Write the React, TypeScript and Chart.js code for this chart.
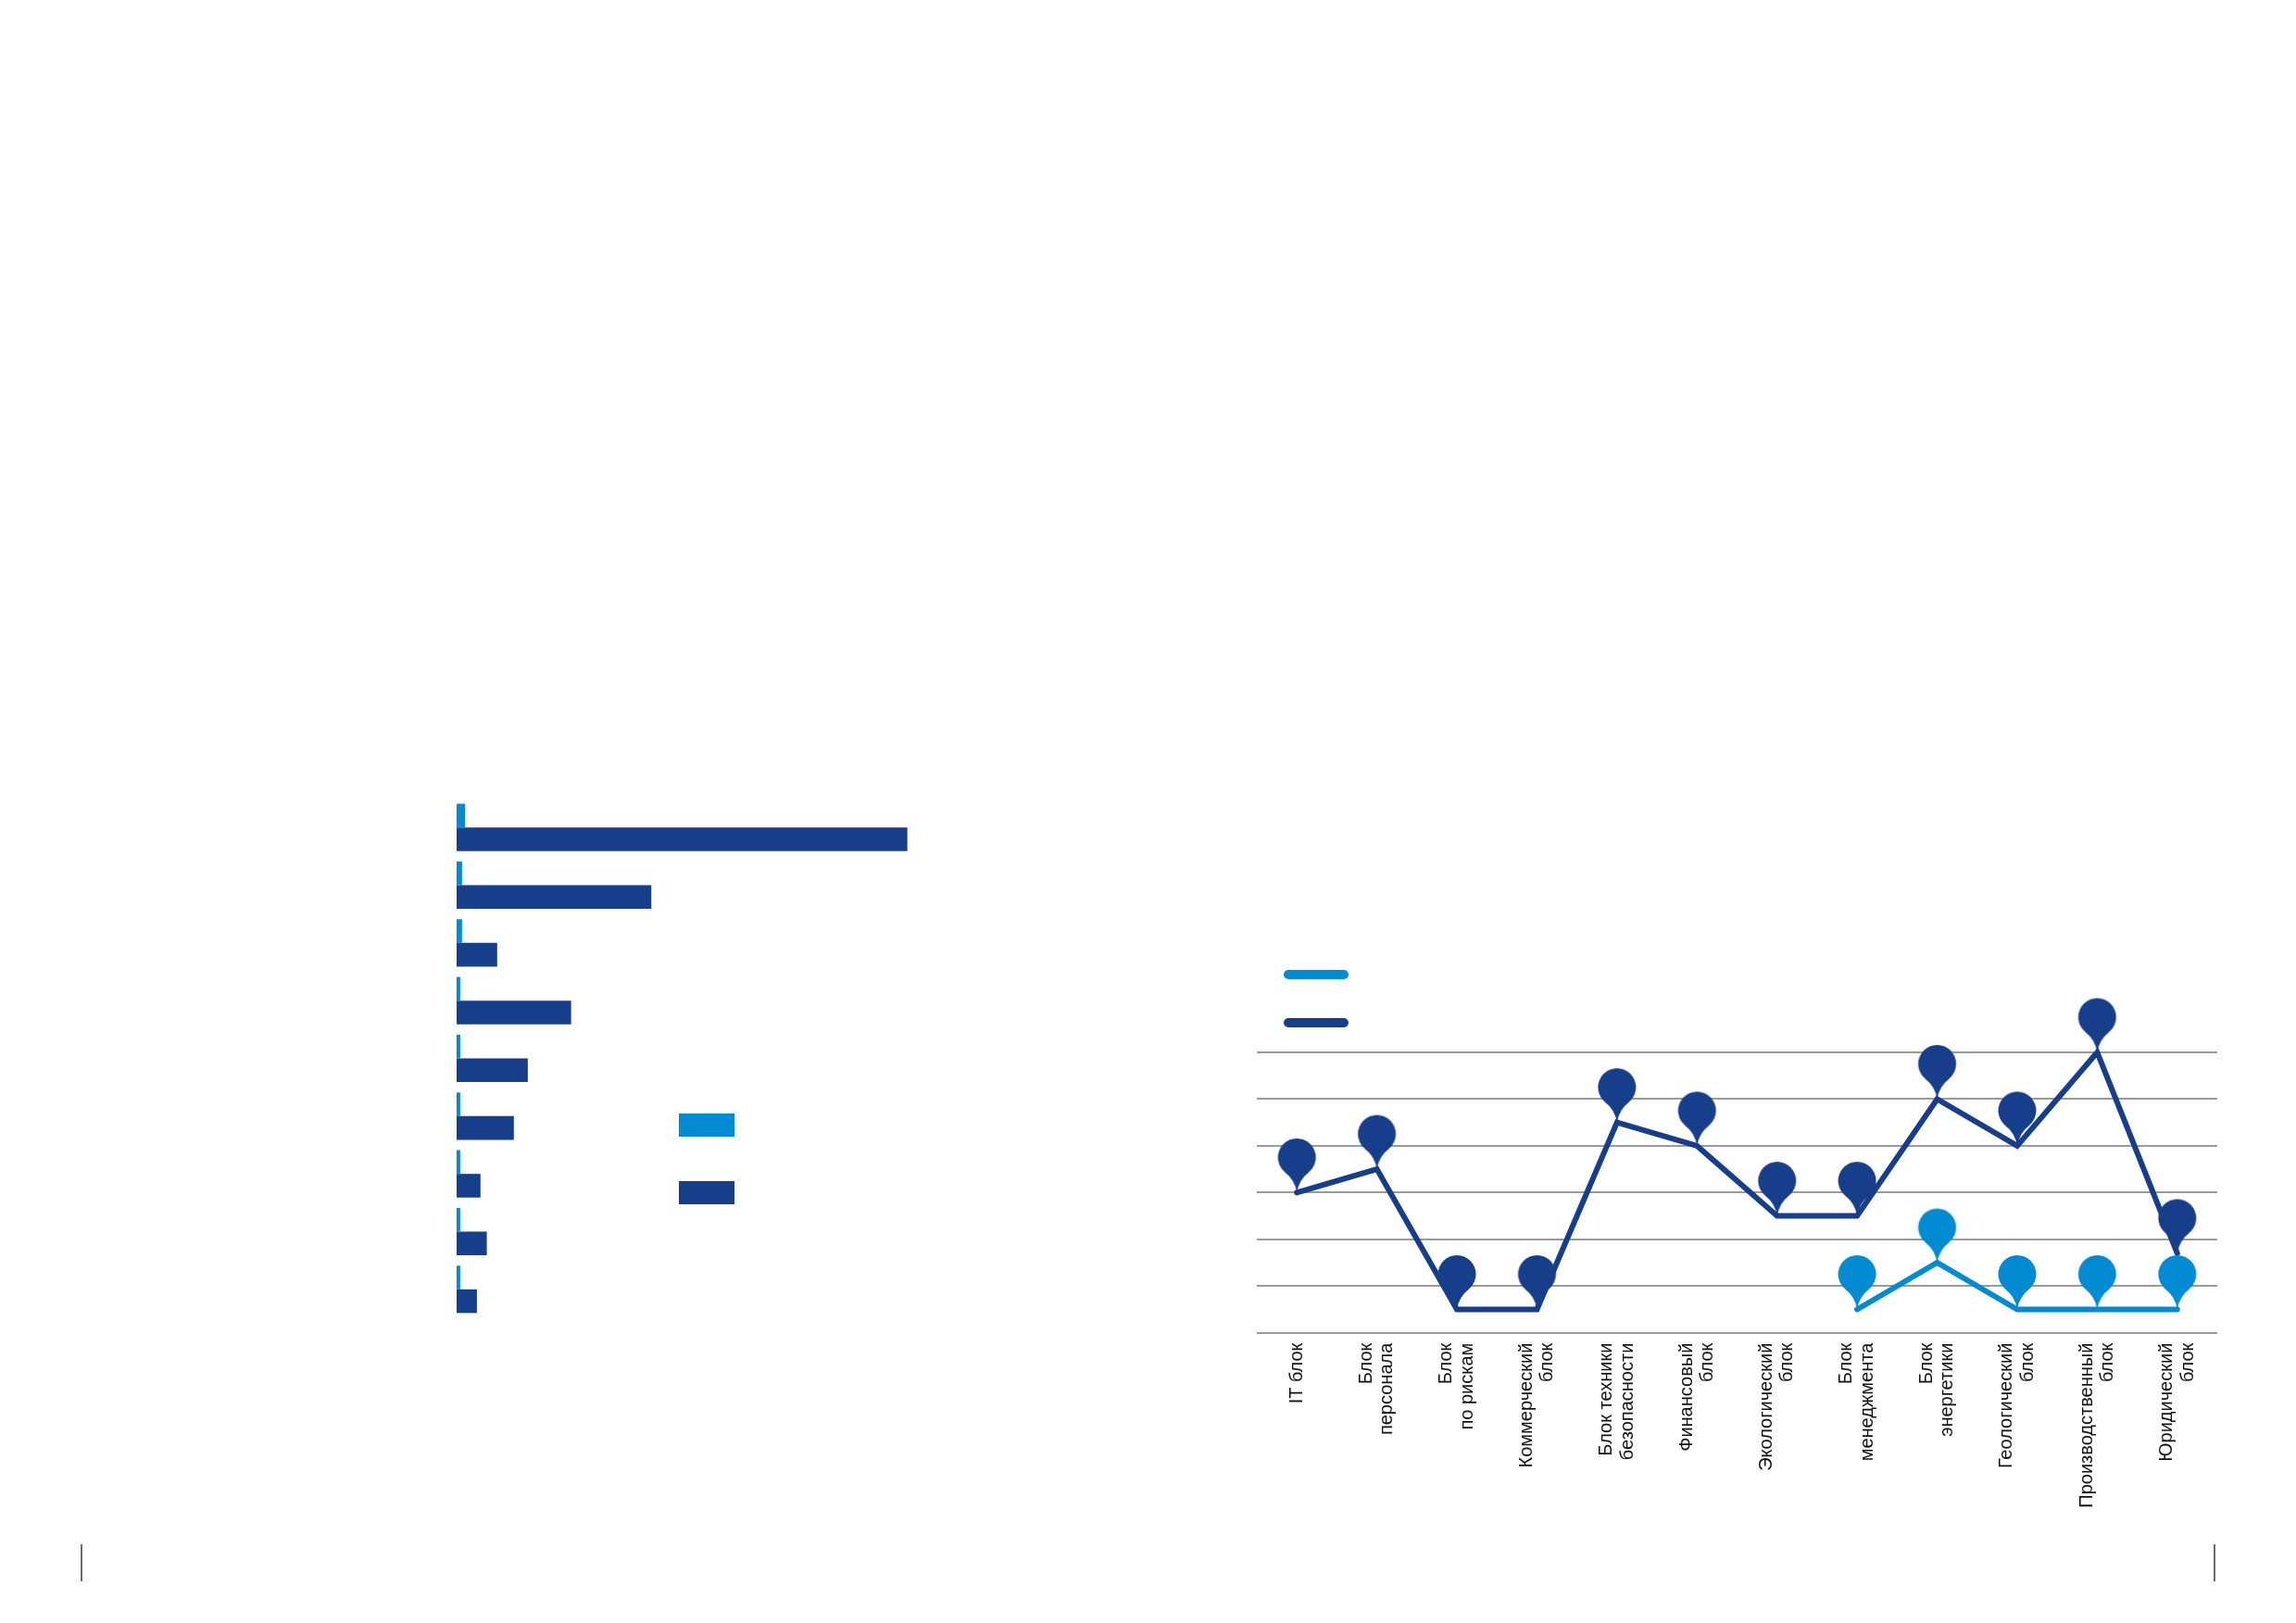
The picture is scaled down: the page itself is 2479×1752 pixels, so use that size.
import { useEffect, useRef } from "react";
import { Chart, registerables } from "chart.js";

Chart.register(...registerables);

const LIGHT = "#008bd2";
const DARK = "#173e8a";
const GRID = "#9a9a9a";

// left chart: horizontal grouped bars (no visible captions in the source)
const barCategories = ["1", "2", "3", "4", "5", "6", "7", "8", "9"];
const barLight = [1.9, 1.2, 1.2, 0.8, 0.8, 0.8, 0.8, 0.8, 0.8];
const barDark = [100, 43.2, 9.0, 25.4, 15.8, 12.7, 5.3, 6.7, 4.5];

// right chart: lines with pin markers
const blocks = [
  ["IT блок"],
  ["Блок", "персонала"],
  ["Блок", "по рискам"],
  ["Коммерческий", "блок"],
  ["Блок техники", "безопасности"],
  ["Финансовый", "блок"],
  ["Экологический", "блок"],
  ["Блок", "менеджмента"],
  ["Блок", "энергетики"],
  ["Геологический", "блок"],
  ["Производственный", "блок"],
  ["Юридический", "блок"],
];
const lineLight = [null, null, null, null, null, null, null, 0.5, 1.5, 0.5, 0.5, 0.5];
const lineDark = [3, 3.5, 0.5, 0.5, 4.5, 4, 2.5, 2.5, 5, 4, 6, 1.7];

const TICK_SIZE = 20;
const TICK_LH = 1.125;

function makePin(color: string) {
  const r = 20.5;
  const drop = 38;
  const c = document.createElement("canvas");
  c.width = 46;
  c.height = (drop + r + 2) * 2;
  const ctx = c.getContext("2d")!;
  const cx = c.width / 2;
  const tipY = c.height / 2;
  const cy = tipY - drop;
  ctx.fillStyle = color;
  ctx.beginPath();
  ctx.arc(cx, cy, r, 0, Math.PI * 2);
  ctx.fill();
  const a = (40 * Math.PI) / 180;
  const lx = cx - r * Math.sin(a);
  const rx = cx + r * Math.sin(a);
  const sy = cy + r * Math.cos(a);
  ctx.beginPath();
  ctx.moveTo(lx, sy);
  ctx.quadraticCurveTo(cx - 2, cy + r + 4, cx, tipY);
  ctx.quadraticCurveTo(cx + 2, cy + r + 4, rx, sy);
  ctx.closePath();
  ctx.fill();
  return c;
}

const boxLegend = {
  id: "boxLegend",
  afterDraw(chart: any) {
    const { ctx, chartArea } = chart;
    ctx.save();
    chart.data.datasets.forEach((ds: any, i: number) => {
      ctx.fillStyle = ds.backgroundColor;
      ctx.fillRect(chartArea.left + 240, chartArea.top + 340 + i * 73, 60, 25);
    });
    ctx.restore();
  },
};

const lineLegend = {
  id: "lineLegend",
  afterDraw(chart: any) {
    const { ctx, chartArea } = chart;
    ctx.save();
    ctx.lineCap = "round";
    ctx.lineWidth = 10;
    chart.data.datasets.forEach((ds: any, i: number) => {
      ctx.strokeStyle = ds.borderColor;
      ctx.beginPath();
      ctx.moveTo(chartArea.left + 34, chartArea.top - 84 + i * 52);
      ctx.lineTo(chartArea.left + 94, chartArea.top - 84 + i * 52);
      ctx.stroke();
    });
    ctx.restore();
  },
};

// centre two-line rotated labels on their tick
const centerLabels = {
  id: "centerLabels",
  beforeDraw(chart: any) {
    const scale = chart.scales.x;
    const items = scale.getLabelItems();
    items.forEach((it: any) => {
      if (it._centered) return;
      it._centered = true;
      if (Array.isArray(it.label) && it.label.length > 1) {
        it.options.translation[0] -= (TICK_SIZE * TICK_LH) / 2;
      }
    });
  },
};

function BarChart() {
  const ref = useRef<HTMLCanvasElement>(null);
  useEffect(() => {
    if (!ref.current) return;
    const chart = new Chart(ref.current, {
      type: "bar",
      data: {
        labels: barCategories,
        datasets: [
          { label: "Ряд 1", data: barLight, backgroundColor: LIGHT },
          { label: "Ряд 2", data: barDark, backgroundColor: DARK },
        ],
      },
      options: {
        indexAxis: "y",
        animation: false,
        responsive: true,
        maintainAspectRatio: false,
        layout: { padding: 0, autoPadding: false },
        datasets: { bar: { categoryPercentage: 0.82, barPercentage: 1 } },
        scales: {
          x: { display: false, min: 0, max: 120 },
          y: { display: false },
        },
        plugins: { legend: { display: false }, tooltip: { enabled: false } },
      },
      plugins: [boxLegend],
    });
    return () => chart.destroy();
  }, []);
  return <canvas ref={ref} />;
}

function LineChart() {
  const ref = useRef<HTMLCanvasElement>(null);
  useEffect(() => {
    if (!ref.current) return;
    const pinLight = makePin(LIGHT);
    const pinDark = makePin(DARK);
    const chart = new Chart(ref.current, {
      type: "line",
      data: {
        labels: blocks,
        datasets: [
          {
            label: "Ряд 1",
            data: lineLight,
            borderColor: LIGHT,
            backgroundColor: LIGHT,
            borderWidth: 6,
            pointStyle: pinLight,
            pointRadius: 5,
            clip: false,
          },
          {
            label: "Ряд 2",
            data: lineDark,
            borderColor: DARK,
            backgroundColor: DARK,
            borderWidth: 6,
            pointStyle: pinDark,
            pointRadius: 5,
            clip: false,
          },
        ],
      },
      options: {
        animation: false,
        responsive: true,
        maintainAspectRatio: false,
        layout: { padding: { top: 136, left: 0, right: 0, bottom: 0 }, autoPadding: false },
        elements: {
          line: { tension: 0, borderCapStyle: "round", borderJoinStyle: "miter" },
        },
        scales: {
          x: {
            offset: true,
            grid: { display: false, drawTicks: false },
            border: { display: false },
            ticks: {
              autoSkip: false,
              maxRotation: 90,
              minRotation: 90,
              padding: 11,
              color: "#111",
              font: { family: "'Liberation Sans', Arial, sans-serif", size: TICK_SIZE, lineHeight: TICK_LH },
            },
            afterFit: (s: any) => {
              s.height = 261.3;
              s.paddingLeft = 0;
              s.paddingRight = 0;
            },
          },
          y: {
            min: 0,
            max: 6,
            ticks: { display: false, stepSize: 1 },
            border: { display: false },
            grid: { color: GRID, lineWidth: 2, drawTicks: false },
            afterFit: (s: any) => {
              s.width = 0;
              s.paddingTop = 0;
              s.paddingBottom = 0;
            },
          },
        },
        plugins: { legend: { display: false }, tooltip: { enabled: false } },
      },
      plugins: [lineLegend, centerLabels],
    });
    return () => chart.destroy();
  }, []);
  return <canvas ref={ref} />;
}

export default function App() {
  useEffect(() => {
    document.body.style.margin = "0";
  }, []);
  const mark = { position: "absolute" as const, top: 1667, width: 2, height: 40, background: "#6b6b6b" };
  return (
    <div style={{ position: "relative", width: 2479, height: 1752, background: "#fff", overflow: "hidden" }}>
      <div style={{ position: "absolute", left: 493, top: 862, width: 584, height: 561 }}>
        <BarChart />
      </div>
      <div style={{ position: "absolute", left: 1357, top: 1000, width: 1037, height: 700 }}>
        <LineChart />
      </div>
      <div style={{ ...mark, left: 87 }} />
      <div style={{ ...mark, left: 2390 }} />
    </div>
  );
}
